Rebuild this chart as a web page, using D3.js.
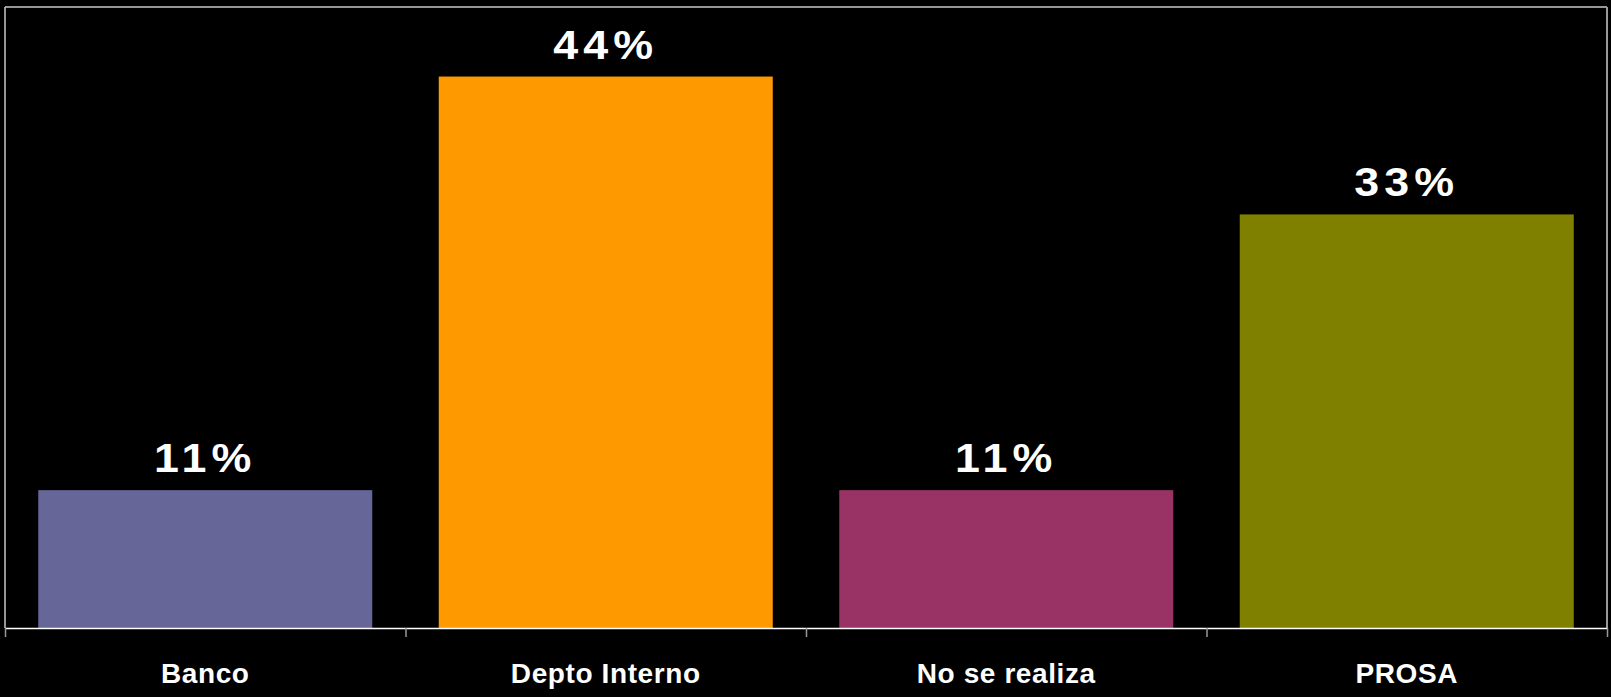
<!DOCTYPE html>
<html>
<head>
<meta charset="utf-8">
<script src="https://cdn.jsdelivr.net/npm/d3@7"></script>
<style>
  html, body { margin: 0; padding: 0; background: #000; }
  svg { display: block; }
</style>
</head>
<body>
<div id="chart"></div>
<script>
// categories and shares
const categories = ["Banco", "Depto Interno", "No se realiza", "PROSA"];
const shares = [0.111, 0.444, 0.111, 0.333];
const barColors = ["#666699", "#ff9900", "#993366", "#808000"];
const yDomain = [0, 0.5];

const data = categories.map((c, i) => ({ cat: c, value: shares[i], color: barColors[i] }));

const width = 1611, height = 697;
const plot = { left: 5, right: 1607, top: 7, bottom: 628 };

const svg = d3.select("#chart")
  .append("svg")
  .attr("width", width)
  .attr("height", height)
  .style("background", "#000");

const x = d3.scaleBand()
  .domain(categories)
  .range([plot.left, plot.right])
  .paddingInner(0.166)
  .paddingOuter(0.083);

const y = d3.scaleLinear()
  .domain(yDomain)
  .range([plot.bottom, plot.top]);

// boundary scale for the tick marks between categories
const xEdge = d3.scaleLinear()
  .domain([0, categories.length])
  .range([plot.left, plot.right]);

// plot frame: top, left, right
svg.append("line")
  .attr("x1", plot.left).attr("x2", plot.right)
  .attr("y1", plot.top).attr("y2", plot.top)
  .attr("stroke", "#c8c8c8").attr("stroke-width", 1.5);
svg.append("line")
  .attr("x1", plot.left).attr("x2", plot.left)
  .attr("y1", plot.top).attr("y2", plot.bottom)
  .attr("stroke", "#c8c8c8").attr("stroke-width", 1.5);
svg.append("line")
  .attr("x1", plot.right).attr("x2", plot.right)
  .attr("y1", plot.top).attr("y2", plot.bottom)
  .attr("stroke", "#999").attr("stroke-width", 2);

svg.selectAll("rect.bar")
  .data(data)
  .join("rect")
  .attr("class", "bar")
  .attr("x", d => x(d.cat))
  .attr("y", d => y(d.value))
  .attr("width", x.bandwidth())
  .attr("height", d => y(0) - y(d.value))
  .attr("fill", d => d.color);

// value labels: wide, spaced-out figures
svg.selectAll("text.value")
  .data(data)
  .join("text")
  .attr("class", "value")
  .attr("transform", d => `translate(${x(d.cat) + x.bandwidth() / 2},${y(d.value) - 18}) scale(1.12,1)`)
  .attr("text-anchor", "middle")
  .attr("fill", "#fff")
  .attr("font-family", "'Liberation Sans', Arial, sans-serif")
  .attr("font-weight", "bold")
  .attr("font-size", "40px")
  .attr("letter-spacing", "4.5px")
  .text(d => d3.format(".0%")(d.value));

// axis line and boundary ticks
const edgeAxis = svg.append("g")
  .attr("transform", `translate(0,${plot.bottom})`)
  .call(d3.axisBottom(xEdge)
    .tickValues(d3.range(categories.length + 1))
    .tickSize(9)
    .tickSizeOuter(0)
    .tickFormat(""));
edgeAxis.select(".domain").attr("stroke", "#fff").attr("stroke-width", 1.5);
edgeAxis.selectAll(".tick line").attr("stroke", "#999").attr("stroke-width", 1.5);

// category labels
const catAxis = svg.append("g")
  .attr("transform", `translate(0,${plot.bottom})`)
  .call(d3.axisBottom(x).tickSize(0));
catAxis.select(".domain").remove();
catAxis.selectAll("text")
  .attr("y", 55)
  .attr("dy", 0)
  .attr("fill", "#fff")
  .attr("font-family", "'Liberation Sans', Arial, sans-serif")
  .attr("font-weight", "bold")
  .attr("font-size", "28px")
  .attr("letter-spacing", "0.6px");
</script>
</body>
</html>
